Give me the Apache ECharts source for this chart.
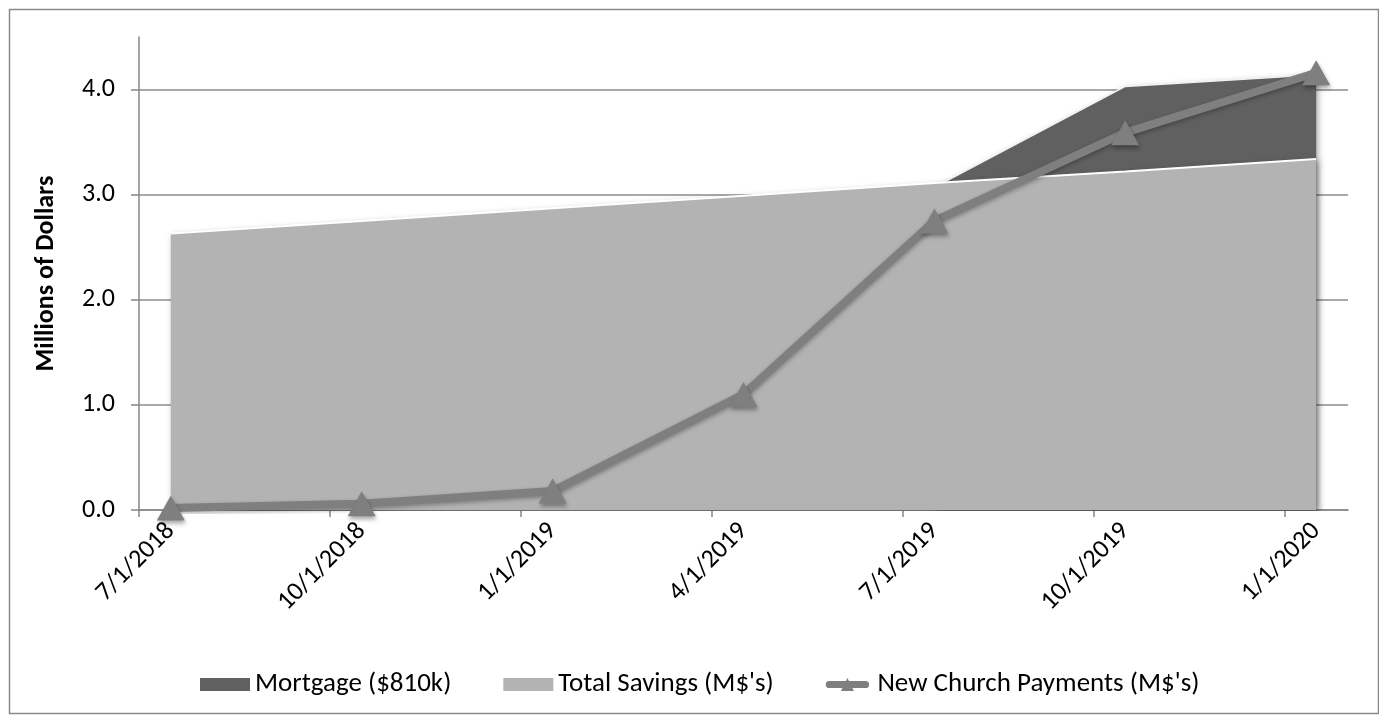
<!DOCTYPE html>
<html><head><meta charset="utf-8">
<script src="https://cdn.jsdelivr.net/npm/echarts@6/dist/echarts.min.js"></script>
<style>html,body{margin:0;padding:0;background:#fff}#c{width:1379px;height:719px}</style>
</head><body><div id="c"></div>
<script>
// ---- data ----
const dateLabels = ['7/1/2018','10/1/2018','1/1/2019','4/1/2019','7/1/2019','10/1/2019','1/1/2020'];
const mortgage = [null, null, null, null, 3.07, 4.03, 4.14];      // Mortgage ($810k) (drawn behind savings)
const totalSavings = [2.63, 2.75, 2.87, 2.99, 3.11, 3.22, 3.34]; // Total Savings (M$'s)
const payments = [0.02, 0.06, 0.18, 1.10, 2.75, 3.59, 4.16];      // New Church Payments (M$'s)
const yTickValues = [0, 1, 2, 3, 4];
const seriesNames = ['Mortgage ($810k)', "Total Savings (M$'s)", "New Church Payments (M$'s)"];
const axisStart = {year: 2018, month: 7};
const axisMonths = 19;

// month-based date axis (Excel "months" base unit: each point sits mid-month)
function monthIndex(label) {
  const p = label.split('/').map(Number);
  return (p[2] - axisStart.year) * 12 + (p[0] - axisStart.month);
}
const tickPos = dateLabels.map(monthIndex);
const pointPos = tickPos.map(v => v + 0.5);
function pairs(arr) {
  const out = [];
  arr.forEach((v, i) => { if (v !== null) out.push([pointPos[i], v]); });
  return out;
}

const FONT = 'Carlito, Lato, sans-serif';
const FS = 26;
const lineIcon = 'path://M5,4 L55,4 A5,5 0 0 1 55,14 L5,14 A5,5 0 0 1 5,4 Z M30,0 L39,18 L21,18 Z';
const chart = echarts.init(document.getElementById('c'), null, {renderer: 'canvas'});
chart.setOption({
  animation: false,
  backgroundColor: '#ffffff',
  graphic: [{
    type: 'rect', left: 7, top: 7, silent: true,
    shape: {x: 0, y: 0, width: 1369, height: 704},
    style: {fill: 'none', stroke: '#8a8a8a', lineWidth: 1.5}
  }],
  grid: {left: 139, right: 31, top: 37, bottom: 209, containLabel: false},
  legend: {
    top: 666, left: 195,
    itemWidth: 50, itemHeight: 13, itemGap: 52,
    textStyle: {fontFamily: FONT, fontSize: 27, color: '#000'},
    data: [
      {name: seriesNames[0], icon: 'rect'},
      {name: seriesNames[1], icon: 'rect'},
      {name: seriesNames[2], icon: lineIcon, itemStyle: {color: '#7f7f7f'}}
    ]
  },
  xAxis: {
    type: 'value', min: 0, max: axisMonths,
    axisLine: {show: true, lineStyle: {color: '#868686', width: 1.5}},
    axisTick: {show: true, length: 7, lineStyle: {color: '#868686', width: 1.5}, customValues: tickPos},
    axisLabel: {
      customValues: pointPos, rotate: 45, margin: 17,
      fontFamily: FONT, fontSize: FS, color: '#000',
      formatter: function (v) {
        const i = pointPos.findIndex(p => Math.abs(p - v) < 1e-6);
        return i >= 0 ? dateLabels[i] : '';
      }
    },
    splitLine: {show: false}
  },
  yAxis: {
    type: 'value', min: 0, max: 4.5,
    name: 'Millions of Dollars', nameLocation: 'middle', nameGap: 80, nameRotate: 90,
    nameTextStyle: {fontFamily: FONT, fontSize: FS, fontWeight: 'bold', color: '#000'},
    axisLine: {show: true, lineStyle: {color: '#868686', width: 1.5}},
    axisTick: {show: true, length: 8, lineStyle: {color: '#868686', width: 1.5}, customValues: yTickValues},
    axisLabel: {customValues: yTickValues, margin: 24, fontFamily: FONT, fontSize: FS, color: '#000',
      formatter: v => v.toFixed(1)},
    splitLine: {show: true, lineStyle: {color: '#8c8c8c', width: 1.5}}
  },
  series: [
    {
      name: seriesNames[0], type: 'line', data: pairs(mortgage),
      symbol: 'none', z: 2,
      lineStyle: {color: '#f2f2f2', width: 1.5},
      itemStyle: {color: '#606060'},
      areaStyle: {color: '#606060', opacity: 1, shadowBlur: 6, shadowColor: 'rgba(0,0,0,0.35)', shadowOffsetX: 2, shadowOffsetY: 2}
    },
    {
      name: seriesNames[1], type: 'line', data: pairs(totalSavings),
      symbol: 'none', z: 3,
      lineStyle: {color: '#ffffff', width: 2},
      itemStyle: {color: '#b3b3b3'},
      areaStyle: {color: '#b3b3b3', opacity: 1, shadowBlur: 6, shadowColor: 'rgba(0,0,0,0.35)', shadowOffsetX: 2, shadowOffsetY: 2}
    },
    {
      name: seriesNames[2], type: 'line', data: pairs(payments), z: 4,
      symbol: 'triangle', symbolSize: [28, 25],
      lineStyle: {color: '#7f7f7f', width: 8, shadowBlur: 4, shadowColor: 'rgba(0,0,0,0.3)', shadowOffsetY: 2},
      itemStyle: {color: '#7f7f7f', shadowBlur: 4, shadowColor: 'rgba(0,0,0,0.35)', shadowOffsetX: 1, shadowOffsetY: 3}
    }
  ]
});
</script>
</body></html>
